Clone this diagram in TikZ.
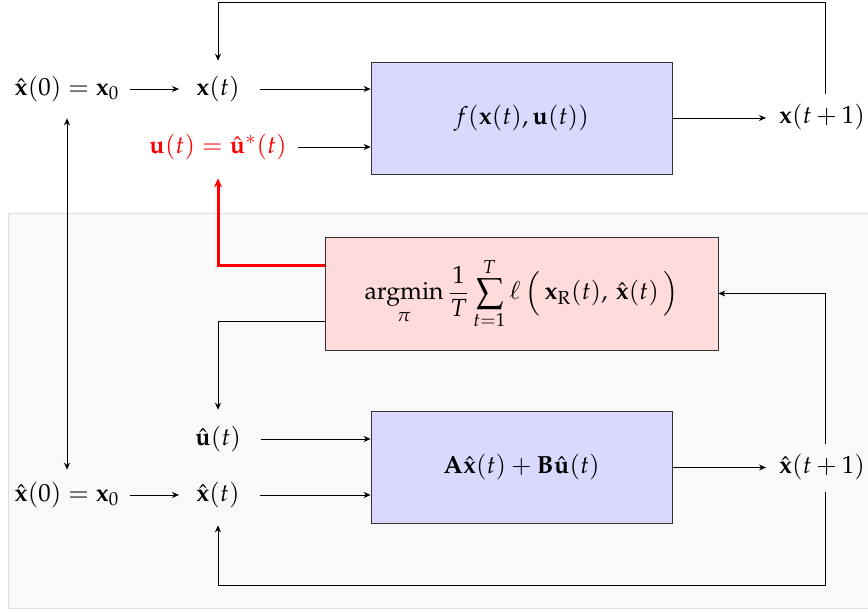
\documentclass[tikz,border=0pt]{standalone}
\usepackage{amsmath}
\usepackage{mathpazo}
\usetikzlibrary{arrows.meta}
\begin{document}
\begin{tikzpicture}[x=0.5pt,y=-0.5pt,
  every node/.style={font=\fontsize{12.4}{15}\selectfont},
  arr/.style={-{Stealth[length=3.5pt,width=3pt]}},
  darr/.style={{Stealth[length=3.5pt,width=3pt]}-{Stealth[length=3.5pt,width=3pt]}},
  lbl/.style={inner sep=0pt},
  sysbox/.style={draw=black!80, fill=blue!15, minimum width=150.5pt, minimum height=56pt, inner sep=0pt},
  optbox/.style={draw=black!80, fill=red!14, minimum width=196.5pt, minimum height=56.5pt, inner sep=0pt},
  redarr/.style={-{Stealth[length=4.5pt,width=4pt]}, red, line width=1.5pt}]
\useasboundingbox (0,0) rectangle (868,611);
\fill[gray!5] (8,213) rectangle (868,608);
\draw[gray!25] (868,213) -- (8,213) -- (8,608) -- (868,608);
% nodes
\node[sysbox] (sys1) at (521.5,118) {$f(\mathbf{x}(t),\mathbf{u}(t))$};
\node[optbox] (opt) at (521.5,293.5) {$\displaystyle \operatorname*{argmin}_{\pi}\frac{1}{T}\sum_{t=1}^{T}\ell\,\Big(\,\mathbf{x}_{\mathrm{R}}(t),\,\hat{\mathbf{x}}(t)\,\Big)$};
\node[sysbox] (sys2) at (521.5,467.5) {$\mathbf{A}\hat{\mathbf{x}}(t)+\mathbf{B}\hat{\mathbf{u}}(t)$};
\node[lbl] (x0a) at (67,89) {$\hat{\mathbf{x}}(0)=\mathbf{x}_0$};
\node[lbl] (xt) at (218,89) {$\mathbf{x}(t)$};
\node[lbl, text=red] (ut) at (218,147) {$\mathbf{u}(t)=\hat{\mathbf{u}}^{*}(t)$};
\node[lbl] (xt1) at (822,117) {$\mathbf{x}(t+1)$};
\node[lbl] (uh) at (218,439) {$\hat{\mathbf{u}}(t)$};
\node[lbl] (x0b) at (67,495) {$\hat{\mathbf{x}}(0)=\mathbf{x}_0$};
\node[lbl] (xh) at (218,495) {$\hat{\mathbf{x}}(t)$};
\node[lbl] (xh1) at (822,467) {$\hat{\mathbf{x}}(t+1)$};
\coordinate (topline) at (0,2);
\coordinate (botline) at (0,585);
\coordinate (rend) at (766,0);
% top system
\draw[arr] ([xshift=5pt]x0a.east) -- ([xshift=-8.5pt]xt.west);
\draw[arr] ([xshift=10pt]xt.east) -- (sys1.west |- xt);
\draw[arr] ([xshift=5.5pt]ut.east) -- (sys1.west |- ut);
\draw[arr] (sys1.east) -- (rend |- sys1);
\draw[arr] ([xshift=1.5pt,yshift=5pt]xt1.north) -- ([xshift=1.5pt]xt1.north |- topline) -- (xt |- topline) -- ([yshift=7.5pt]xt.north);
% left link
\draw[darr] ([yshift=-8pt]x0a.south) -- ([yshift=6pt]x0b.north);
% optimizer
\draw[redarr] ([yshift=14.25pt]opt.west) -| ([yshift=-9pt]ut.south);
\draw[arr] ([yshift=-13.75pt]opt.west) -| ([yshift=8pt]uh.north);
\draw[arr] ([xshift=1.5pt,yshift=5pt]xh1.north) |- (opt.east);
% bottom system
\draw[arr] ([xshift=10pt]uh.east) -- (sys2.west |- uh);
\draw[arr] ([xshift=5pt]x0b.east) -- ([xshift=-8.5pt]xh.west);
\draw[arr] ([xshift=10pt]xh.east) -- (sys2.west |- xh);
\draw[arr] (sys2.east) -- (rend |- sys2);
\draw[arr] ([xshift=1.5pt,yshift=-6pt]xh1.south) -- ([xshift=1.5pt]xh1.south |- botline) -- (xh |- botline) -- ([yshift=-8.5pt]xh.south);
\end{tikzpicture}
\end{document}
